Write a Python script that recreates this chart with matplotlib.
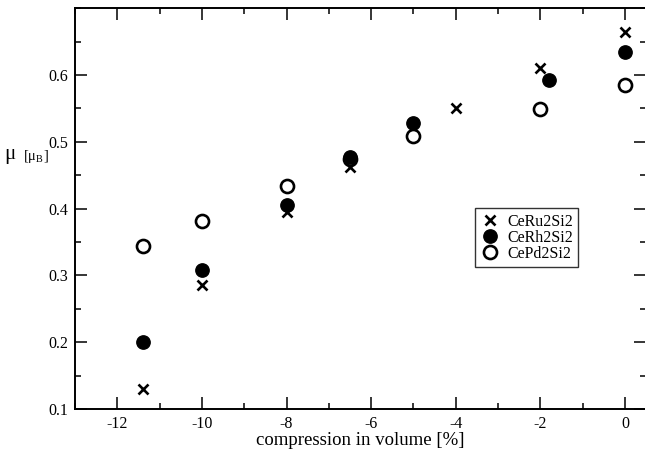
import matplotlib
matplotlib.use('Agg')
import matplotlib.pyplot as plt
from matplotlib.ticker import MultipleLocator

plt.rcParams['font.family'] = ['Liberation Serif', 'DejaVu Serif']
plt.rcParams['mathtext.fontset'] = 'custom'
plt.rcParams['mathtext.rm'] = 'Liberation Serif'
plt.rcParams['axes.unicode_minus'] = False

# compression in volume [%] and moment [mu_B]
ru_x = [-11.4, -10, -8, -6.5, -4, -2, 0]
ru_y = [0.130, 0.285, 0.395, 0.462, 0.550, 0.611, 0.664]
rh_x = [-11.4, -10, -8, -6.5, -5, -1.8, 0]
rh_y = [0.200, 0.308, 0.405, 0.478, 0.528, 0.593, 0.635]
pd_x = [-11.4, -10, -8, -6.5, -5, -2, 0]
pd_y = [0.344, 0.381, 0.434, 0.475, 0.509, 0.549, 0.585]
y_ticks = [0.1, 0.2, 0.3, 0.4, 0.5, 0.6]

fig = plt.figure(figsize=(6.45, 4.53), dpi=100)
ax = fig.add_axes([0.1163, 0.0971, 0.8853, 0.8846])

ax.plot(pd_x, pd_y, 'o', ls='none', ms=9.4, mfc='white', mec='black',
        mew=1.9, label='CePd2Si2', zorder=3)
ax.plot(rh_x, rh_y, 'o', ls='none', ms=9.6, mfc='black', mec='black',
        label='CeRh2Si2', zorder=4)
ax.plot(ru_x, ru_y, 'x', ls='none', ms=7, mec='black', mew=1.9,
        label='CeRu2Si2', zorder=5)

ax.set_xlim(-13, 0.5)
ax.set_ylim(0.1, 0.7)
ax.xaxis.set_major_locator(MultipleLocator(2))
ax.xaxis.set_minor_locator(MultipleLocator(1))
ax.set_yticks(y_ticks)
ax.yaxis.set_minor_locator(MultipleLocator(0.05))
ax.tick_params(which='both', direction='in', top=True, right=True,
               labelsize=11.5, width=1.1, pad=5)
ax.tick_params(which='major', length=8.5)
ax.tick_params(which='minor', length=4.5)
for s in ax.spines.values():
    s.set_linewidth(1.4)

ax.set_xlabel('compression in volume [%]', fontsize=13.5, labelpad=0)
fig.text(0.006, 0.658, 'μ', fontsize=15, va='center')
fig.text(0.036, 0.655, r'[μ$_\mathregular{B}$]', fontsize=10.5, va='center')

h, l = ax.get_legend_handles_labels()
leg = ax.legend(h[::-1], l[::-1], loc='upper left',
                bbox_to_anchor=(475 / 645, 1 - 208 / 453),
                bbox_transform=fig.transFigure, fontsize=11.5, frameon=True,
                fancybox=False, edgecolor='black', borderpad=0.35,
                handletextpad=0.45, labelspacing=0.0, handlelength=1.2,
                borderaxespad=0)
leg.get_frame().set_linewidth(1.0)

fig.savefig('out.png', dpi=100)
